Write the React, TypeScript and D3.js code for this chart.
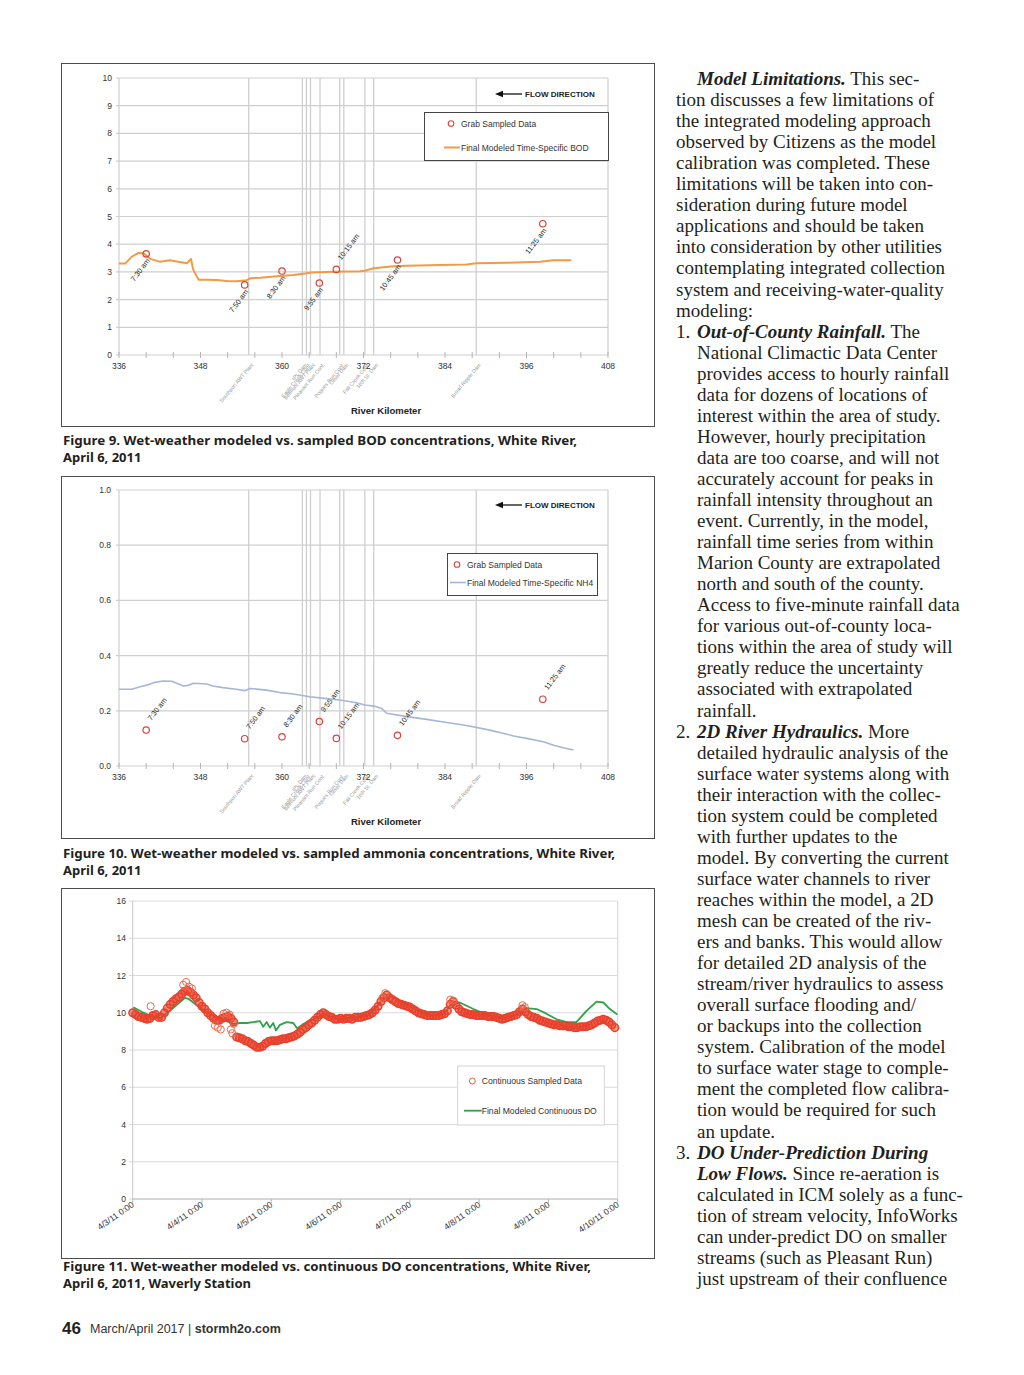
import React from "react";
import * as d3 from "d3";

const SANS = "'Liberation Sans', Arial, sans-serif";
const SERIF = "'Liberation Serif', 'Times New Roman', serif";
const CAPTION = "'Noto Sans', 'Open Sans', sans-serif";

// ---------- Figures 9 & 10 : river kilometer
const kmTicks = d3.range(336, 409, 4);
const kmLabels = [336, 348, 360, 372, 384, 396, 408];

const landmarkKm = [355.1, 363.0, 363.6, 364.2, 365.6, 368.5, 369.1, 372.2, 373.5, 388.6];
const landmarkNames = [
  "Southport AWT Plant",
  "IPL Dam",
  "Eagle Creek Conf.",
  "Belmont AWT Plant",
  "Pleasant Run Conf.",
  "Pogues Run Conf.",
  "Oliver Dam",
  "Fall Creek Conf.",
  "16th St. Dam",
  "Broad Ripple Dam",
];

const sampleKm = [340.0, 354.5, 360.0, 365.5, 368.0, 377.0, 398.4];
const sampleTimes = ["7:30 am", "7:50 am", "8:30 am", "9:55 am", "10:15 am", "10:45 am", "11:25 am"];

const bodSamples = [3.65, 2.53, 3.03, 2.6, 3.09, 3.43, 4.74];
const bodLabelAbove = [false, false, false, false, true, false, false];
const bodTicks = [0, 1, 2, 3, 4, 5, 6, 7, 8, 9, 10];
const bodModelKm = [
  336.0, 336.9, 337.9, 338.8, 339.6, 340.6, 342.0, 343.5, 344.7, 346.0, 346.6, 346.9, 347.7, 348.9,
  350.4, 351.9, 353.3, 354.8, 355.3, 356.8, 359.2, 361.7, 363.4, 364.4, 366.6, 369.0, 371.5, 372.2,
  373.5, 376.4, 378.4, 383.3, 387.2, 388.6, 393.1, 398.0, 400.0, 402.6,
];
const bodModel = [
  3.3, 3.3, 3.55, 3.68, 3.67, 3.47, 3.37, 3.42, 3.37, 3.31, 3.47, 3.1, 2.72, 2.72, 2.71, 2.67, 2.66,
  2.7, 2.77, 2.79, 2.84, 2.89, 2.94, 2.98, 3.0, 3.01, 3.02, 3.04, 3.13, 3.2, 3.22, 3.25, 3.27, 3.31,
  3.33, 3.37, 3.42, 3.42,
];

const nh4Samples = [0.13, 0.099, 0.106, 0.161, 0.1, 0.111, 0.242];
const nh4LabelAbove = [true, true, true, true, true, true, true];
const nh4Ticks = [0, 0.2, 0.4, 0.6, 0.8, 1.0];
const nh4ModelKm = [
  336.0, 337.9, 339.1, 340.1, 341.1, 342.5, 343.8, 344.5, 345.5, 346.2, 346.9, 348.9, 349.8, 351.3,
  353.3, 354.5, 355.3, 357.7, 359.7, 361.7, 364.1, 366.6, 368.5, 371.0, 372.2, 373.5, 374.7, 375.4,
  378.4, 381.3, 383.3, 387.2, 390.6, 394.1, 396.0, 398.5, 400.0, 401.4, 402.9,
];
const nh4Model = [
  0.278, 0.278, 0.287, 0.293, 0.302, 0.308, 0.307, 0.3, 0.29, 0.292, 0.3, 0.297, 0.29, 0.284, 0.278,
  0.273, 0.281, 0.275, 0.266, 0.261, 0.251, 0.244, 0.239, 0.229, 0.221, 0.217, 0.208, 0.191, 0.179,
  0.169, 0.161, 0.147, 0.13, 0.109, 0.1, 0.088, 0.075, 0.066, 0.058,
];

// ---------- Figure 11 : continuous DO, hourly from 4/3/11 0:00
const dayLabels = [
  "4/3/11 0:00", "4/4/11 0:00", "4/5/11 0:00", "4/6/11 0:00",
  "4/7/11 0:00", "4/8/11 0:00", "4/9/11 0:00", "4/10/11 0:00",
];
const doTicks = [0, 2, 4, 6, 8, 10, 12, 14, 16];
const doSampled = [
  // 4/3
  10.0, 9.9, 9.8, 9.75, 9.7, 9.65, 9.7, 9.85, 9.9, 9.75, 9.75, 10.0, 10.25, 10.45, 10.6, 10.75, 10.85,
  11.0, 11.15, 11.2, 11.1, 10.95, 10.8, 10.55,
  // 4/4
  10.35, 10.2, 10.0, 9.85, 9.7, 9.6, 9.6, 9.7, 9.75, 9.8, 9.7, 9.5, 8.7, 8.65, 8.6, 8.5, 8.45, 8.35,
  8.25, 8.15, 8.15, 8.2, 8.35, 8.45,
  // 4/5
  8.5, 8.5, 8.5, 8.55, 8.6, 8.6, 8.65, 8.7, 8.75, 8.85, 8.95, 9.1, 9.2, 9.35, 9.45, 9.6, 9.75, 9.9,
  10.0, 9.9, 9.8, 9.75, 9.65, 9.65,
  // 4/6
  9.7, 9.65, 9.7, 9.7, 9.65, 9.75, 9.75, 9.75, 9.8, 9.85, 9.9, 10.0, 10.15, 10.35, 10.6, 10.8, 10.95,
  10.8, 10.7, 10.6, 10.5, 10.45, 10.4, 10.35,
  // 4/7
  10.3, 10.2, 10.1, 10.0, 9.95, 9.9, 9.85, 9.85, 9.85, 9.85, 9.85, 9.9, 9.95, 10.1, 10.45, 10.6, 10.4,
  10.2, 10.05, 10.0, 9.95, 9.9, 9.9, 9.85,
  // 4/8
  9.85, 9.85, 9.85, 9.8, 9.8, 9.8, 9.75, 9.7, 9.65, 9.7, 9.75, 9.8, 9.85, 9.9, 10.05, 10.2, 10.05,
  9.9, 9.8, 9.75, 9.7, 9.6, 9.55, 9.5,
  // 4/9
  9.45, 9.4, 9.35, 9.35, 9.3, 9.3, 9.3, 9.25, 9.25, 9.2, 9.2, 9.25, 9.25, 9.25, 9.3, 9.35, 9.45, 9.55,
  9.6, 9.65, 9.6, 9.5, 9.35, 9.2,
];
const doScatterHours = [6.2, 17.5, 18.5, 19.5, 20.5, 28.5, 29.5, 30.5, 31.5, 32.5, 33.5, 34, 34.5, 35, 86.5, 87.5, 110, 111, 135, 135.8];
const doScatter = [10.35, 11.5, 11.65, 11.4, 11.3, 9.3, 9.2, 9.1, 9.95, 10.0, 9.9, 9.1, 8.9, 9.4, 10.8, 11.05, 10.7, 10.65, 10.4, 10.3];
const doModelHours = [
  0.2, 3.1, 6.0, 9.5, 12.9, 18.1, 19.3, 22.2, 25.6, 29.1, 32.5, 34.9, 37.2, 39.5, 41.8, 44.1, 45.2,
  46.4, 47.5, 48.7, 49.6, 51.0, 53.3, 55.6, 57.0, 59.1, 61.4, 64, 66, 68, 72, 78, 82, 86, 89.1, 91.4,
  96, 100, 104, 108, 110, 113.3, 118, 122.6, 126, 128.3, 133, 136.4, 139.9, 143.3, 146.8, 150.3, 153.7,
  157.2, 160.7, 163, 165.3, 167.9,
];
const doModel = [
  10.3, 10.05, 9.85, 9.7, 10.1, 10.8, 10.75, 10.4, 10.0, 9.75, 9.55, 9.4, 9.45, 9.45, 9.5, 9.55, 9.25,
  9.5, 9.2, 9.45, 9.05, 9.35, 9.5, 9.45, 9.15, 9.4, 9.55, 9.75, 9.95, 9.8, 9.7, 9.75, 9.9, 10.6, 10.9,
  10.75, 10.35, 10.0, 9.85, 9.95, 10.4, 10.55, 10.2, 9.9, 9.8, 9.7, 9.9, 10.25, 10.2, 9.95, 9.65, 9.5,
  9.5, 10.1, 10.6, 10.55, 10.2, 9.9,
];

// ---------- body text
type Line = { n?: string; b?: string; t: string; ind?: boolean };
const bodyLines: Line[] = [
  { b: "Model Limitations.", t: " This sec-", ind: true },
  { t: "tion discusses a few limitations of" },
  { t: "the integrated modeling approach" },
  { t: "observed by Citizens as the model" },
  { t: "calibration was completed. These" },
  { t: "limitations will be taken into con-" },
  { t: "sideration during future model" },
  { t: "applications and should be taken" },
  { t: "into consideration by other utilities" },
  { t: "contemplating integrated collection" },
  { t: "system and receiving-water-quality" },
  { t: "modeling:" },
  { n: "1.", b: "Out-of-County Rainfall.", t: " The", ind: true },
  { t: "National Climactic Data Center", ind: true },
  { t: "provides access to hourly rainfall", ind: true },
  { t: "data for dozens of locations of", ind: true },
  { t: "interest within the area of study.", ind: true },
  { t: "However, hourly precipitation", ind: true },
  { t: "data are too coarse, and will not", ind: true },
  { t: "accurately account for peaks in", ind: true },
  { t: "rainfall intensity throughout an", ind: true },
  { t: "event. Currently, in the model,", ind: true },
  { t: "rainfall time series from within", ind: true },
  { t: "Marion County are extrapolated", ind: true },
  { t: "north and south of the county.", ind: true },
  { t: "Access to five-minute rainfall data", ind: true },
  { t: "for various out-of-county loca-", ind: true },
  { t: "tions within the area of study will", ind: true },
  { t: "greatly reduce the uncertainty", ind: true },
  { t: "associated with extrapolated", ind: true },
  { t: "rainfall.", ind: true },
  { n: "2.", b: "2D River Hydraulics.", t: " More", ind: true },
  { t: "detailed hydraulic analysis of the", ind: true },
  { t: "surface water systems along with", ind: true },
  { t: "their interaction with the collec-", ind: true },
  { t: "tion system could be completed", ind: true },
  { t: "with further updates to the", ind: true },
  { t: "model. By converting the current", ind: true },
  { t: "surface water channels to river", ind: true },
  { t: "reaches within the model, a 2D", ind: true },
  { t: "mesh can be created of the riv-", ind: true },
  { t: "ers and banks. This would allow", ind: true },
  { t: "for detailed 2D analysis of the", ind: true },
  { t: "stream/river hydraulics to assess", ind: true },
  { t: "overall surface flooding and/", ind: true },
  { t: "or backups into the collection", ind: true },
  { t: "system. Calibration of the model", ind: true },
  { t: "to surface water stage to comple-", ind: true },
  { t: "ment the completed flow calibra-", ind: true },
  { t: "tion would be required for such", ind: true },
  { t: "an update.", ind: true },
  { n: "3.", b: "DO Under-Prediction During", t: "", ind: true },
  { b: "Low Flows.", t: " Since re-aeration is", ind: true },
  { t: "calculated in ICM solely as a func-", ind: true },
  { t: "tion of stream velocity, InfoWorks", ind: true },
  { t: "can under-predict DO on smaller", ind: true },
  { t: "streams (such as Pleasant Run)", ind: true },
  { t: "just upstream of their confluence", ind: true },
];

const GRID = "#cfcfcf";

function FlowArrow({ y }: { y: number }) {
  return (
    <g>
      <path d={`M495,${y} L503,${y - 3.2} L503,${y + 3.2} Z`} fill="#111" />
      <line x1={501} x2={522} y1={y} y2={y} stroke="#111" strokeWidth={1.3} />
      <text x={525} y={y + 3} fontFamily={SANS} fontSize={8} fontWeight="bold" fill="#222">
        FLOW DIRECTION
      </text>
    </g>
  );
}

type RiverProps = {
  boxTop: number;
  boxBottom: number;
  plotTop: number;
  plotBottom: number;
  ticks: number[];
  digits: number;
  yLabelX: number;
  modelKm: number[];
  model: number[];
  modelColor: string;
  modelWidth: number;
  samples: number[];
  above: boolean[];
  flowY: number;
  legend: { x: number; y: number; w: number; h: number; dot: number; text: number };
  legendLabel: string;
};

function RiverChart(p: RiverProps) {
  const x = d3.scaleLinear().domain([336, 408]).range([119, 608]);
  const y = d3.scaleLinear().domain([0, p.ticks[p.ticks.length - 1]]).range([p.plotBottom, p.plotTop]);
  const path =
    d3
      .line<number>()
      .x((_, i) => x(p.modelKm[i]))
      .y((d) => y(d))(p.model) ?? "";
  const L = p.legend;
  return (
    <g>
      <rect x={61.5} y={p.boxTop + 0.5} width={593} height={p.boxBottom - p.boxTop} fill="#fff" stroke="#4d4d4d" />
      {p.ticks.map((t) => (
        <g key={t}>
          <line x1={116} x2={608} y1={y(t)} y2={y(t)} stroke={GRID} strokeWidth={1.2} />
          <text x={p.yLabelX} y={y(t) + 3} textAnchor="end" fontFamily={SANS} fontSize={8.5} fill="#333">
            {t.toFixed(p.digits)}
          </text>
        </g>
      ))}
      <line x1={x(336)} x2={x(336)} y1={p.plotTop} y2={p.plotBottom} stroke={GRID} strokeWidth={1.2} />
      <line x1={x(408)} x2={x(408)} y1={p.plotTop} y2={p.plotBottom} stroke={GRID} strokeWidth={1.2} />
      {landmarkKm.map((k, i) => (
        <g key={landmarkNames[i]}>
          <line x1={x(k)} x2={x(k)} y1={p.plotTop} y2={p.plotBottom} stroke={GRID} strokeWidth={1.3} />
          <text
            transform={`translate(${x(k) + 5},${p.plotBottom + 10}) rotate(-50)`}
            textAnchor="end"
            fontFamily={SANS}
            fontSize={5.3}
            fill="#9a9a9a"
          >
            {landmarkNames[i]}
          </text>
        </g>
      ))}
      {kmTicks.map((k) => (
        <line key={k} x1={x(k)} x2={x(k)} y1={p.plotBottom - 3} y2={p.plotBottom + 3} stroke="#b5b5b5" />
      ))}
      {kmLabels.map((k) => (
        <text key={k} x={x(k)} y={p.plotBottom + 14} textAnchor="middle" fontFamily={SANS} fontSize={8.5} fill="#333">
          {k}
        </text>
      ))}
      <text x={386} y={p.plotBottom + 59} textAnchor="middle" fontFamily={SANS} fontSize={9.5} fontWeight="bold" fill="#222">
        River Kilometer
      </text>

      <path d={path} fill="none" stroke={p.modelColor} strokeWidth={p.modelWidth} strokeLinejoin="round" />
      {p.samples.map((v, i) => {
        const px = x(sampleKm[i]);
        const py = y(v);
        return (
          <g key={sampleTimes[i]}>
            <circle cx={px} cy={py} r={3.2} fill="none" stroke="#d9453b" strokeWidth={1.2} />
            {p.above[i] ? (
              <text transform={`translate(${px + 5},${py - 9}) rotate(-53)`} fontFamily={SANS} fontSize={7.3} fill="#222">
                {sampleTimes[i]}
              </text>
            ) : (
              <text
                transform={`translate(${px + 4},${py + 7}) rotate(-53)`}
                textAnchor="end"
                fontFamily={SANS}
                fontSize={7.3}
                fill="#222"
              >
                {sampleTimes[i]}
              </text>
            )}
          </g>
        );
      })}

      <FlowArrow y={p.flowY} />
      <rect x={L.x} y={L.y} width={L.w} height={L.h} fill="#fff" stroke="#444" strokeWidth={1} />
      <circle cx={L.dot} cy={L.y + 11} r={2.8} fill="none" stroke="#d9453b" strokeWidth={1.1} />
      <text x={L.text} y={L.y + 14} fontFamily={SANS} fontSize={8.5} fill="#333">
        Grab Sampled Data
      </text>
      <line x1={L.text - 17} x2={L.text - 1} y1={L.y + L.h - 13} y2={L.y + L.h - 13} stroke={p.modelColor} strokeWidth={p.modelWidth} />
      <text x={L.text} y={L.y + L.h - 10} fontFamily={SANS} fontSize={8.5} fill="#333">
        {p.legendLabel}
      </text>
    </g>
  );
}

function DoChart() {
  const top = 901;
  const bottom = 1199;
  const x = d3.scaleLinear().domain([0, 168]).range([132.7, 617.7]);
  const y = d3.scaleLinear().domain([0, 16]).range([bottom, top]);
  const model =
    d3
      .line<number>()
      .x((_, i) => x(doModelHours[i]))
      .y((d) => y(d))(doModel) ?? "";
  return (
    <g>
      <rect x={61.5} y={888.5} width={593} height={370} fill="#fff" stroke="#4d4d4d" />
      {doTicks.map((t) => (
        <g key={t}>
          <line x1={129} x2={617.7} y1={y(t)} y2={y(t)} stroke="#dadada" strokeWidth={1.2} />
          <text x={126} y={y(t) + 3} textAnchor="end" fontFamily={SANS} fontSize={8.5} fill="#333">
            {t}
          </text>
        </g>
      ))}
      <line x1={x(0)} x2={x(0)} y1={top} y2={bottom} stroke="#c8c8c8" />
      <line x1={x(168)} x2={x(168)} y1={top} y2={bottom} stroke="#dadada" strokeWidth={1.2} />
      <line x1={x(0)} x2={x(168)} y1={bottom} y2={bottom} stroke="#c0c0c0" strokeWidth={1.2} />
      {dayLabels.map((d, i) => (
        <g key={d}>
          <line x1={x(i * 24)} x2={x(i * 24)} y1={bottom} y2={bottom + 4} stroke="#b5b5b5" />
          <text
            transform={`translate(${x(i * 24) + 2},${bottom + 7}) rotate(-35)`}
            textAnchor="end"
            fontFamily={SANS}
            fontSize={8.6}
            fill="#333"
          >
            {d}
          </text>
        </g>
      ))}
      <path d={model} fill="none" stroke="#2ea24c" strokeWidth={1.8} strokeLinejoin="round" />
      {doSampled.map((v, i) => (
        <circle key={i} cx={x(i)} cy={y(v)} r={3.8} fill="#e8412c" fillOpacity={0.55} stroke="#e8412c" strokeWidth={1.5} />
      ))}
      {doScatter.map((v, i) => (
        <circle key={`s${i}`} cx={x(doScatterHours[i])} cy={y(v)} r={3.6} fill="none" stroke="#ec6a4e" strokeWidth={1} />
      ))}

      <rect x={457.7} y={1066} width={146.6} height={59} fill="#fff" stroke="#d4d4d4" />
      <circle cx={472.3} cy={1081} r={3} fill="none" stroke="#e8644a" strokeWidth={1} />
      <text x={481.7} y={1084} fontFamily={SANS} fontSize={8.6} fill="#333">
        Continuous Sampled Data
      </text>
      <line x1={464} x2={481.7} y1={1110.7} y2={1110.7} stroke="#2ea24c" strokeWidth={1.8} />
      <text x={481.7} y={1113.7} fontFamily={SANS} fontSize={8.6} fill="#333">
        Final Modeled Continuous DO
      </text>
    </g>
  );
}

function Caption({ y, first, firstWidth, second }: { y: number; first: string; firstWidth: number; second: string }) {
  return (
    <g fontFamily={CAPTION} fontWeight="bold" fontSize={13} fill="#231f20">
      <text x={63} y={y} textLength={firstWidth} lengthAdjust="spacingAndGlyphs">
        {first}
      </text>
      <text x={63} y={y + 17}>
        {second}
      </text>
    </g>
  );
}

export default function App() {
  return (
    <svg
      width={1024}
      height={1375}
      viewBox="0 0 1024 1375"
      style={{ position: "absolute", left: 0, top: 0, background: "#fff" }}
    >
      <rect width={1024} height={1375} fill="#fff" />
      <RiverChart
        boxTop={63}
        boxBottom={426}
        plotTop={78}
        plotBottom={355}
        ticks={bodTicks}
        digits={0}
        yLabelX={112}
        modelKm={bodModelKm}
        model={bodModel}
        modelColor="#f39a45"
        modelWidth={2}
        samples={bodSamples}
        above={bodLabelAbove}
        flowY={94}
        legend={{ x: 424.5, y: 112.5, w: 184, h: 48, dot: 451, text: 461 }}
        legendLabel="Final Modeled Time-Specific BOD"
      />
      <Caption y={445} first="Figure 9. Wet-weather modeled vs. sampled BOD concentrations, White River," firstWidth={514} second="April 6, 2011" />

      <RiverChart
        boxTop={476}
        boxBottom={838}
        plotTop={490}
        plotBottom={766}
        ticks={nh4Ticks}
        digits={1}
        yLabelX={111}
        modelKm={nh4ModelKm}
        model={nh4Model}
        modelColor="#a7b6d6"
        modelWidth={1.6}
        samples={nh4Samples}
        above={nh4LabelAbove}
        flowY={505}
        legend={{ x: 447.5, y: 553.5, w: 150, h: 42, dot: 457, text: 467 }}
        legendLabel="Final Modeled Time-Specific NH4"
      />
      <Caption y={858} first="Figure 10. Wet-weather modeled vs. sampled ammonia concentrations, White River," firstWidth={552} second="April 6, 2011" />

      <DoChart />
      <Caption y={1271} first="Figure 11. Wet-weather modeled vs. continuous DO concentrations, White River," firstWidth={528} second="April 6, 2011, Waverly Station" />

      <g fontFamily={SANS} fill="#231f20">
        <text x={62} y={1334} fontSize={17} fontWeight="bold">
          46
        </text>
        <text x={90} y={1333} fontSize={12.5} fill="#333">
          March/April 2017 | <tspan fontWeight="bold">stormh2o.com</tspan>
        </text>
      </g>

      <g fontFamily={SERIF} fontSize={19} fill="#231f20">
        {bodyLines.map((l, i) => {
          const by = 85 + i * 21.05;
          return (
            <g key={i}>
              {l.n && (
                <text x={676} y={by}>
                  {l.n}
                </text>
              )}
              <text x={l.ind ? 697 : 676} y={by}>
                {l.b && (
                  <tspan fontWeight="bold" fontStyle="italic">
                    {l.b}
                  </tspan>
                )}
                {l.t && <tspan>{l.t}</tspan>}
              </text>
            </g>
          );
        })}
      </g>
    </svg>
  );
}
